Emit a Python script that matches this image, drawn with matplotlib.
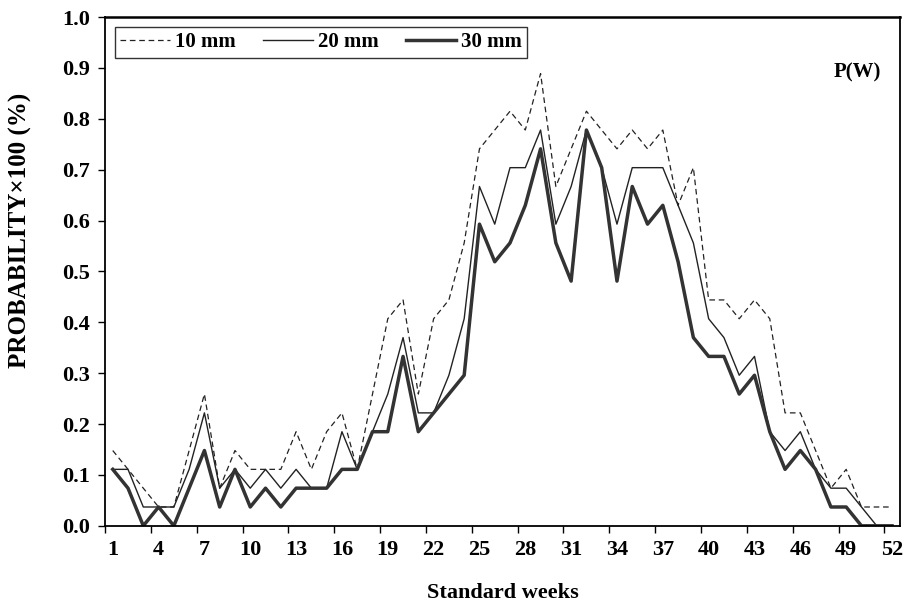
import matplotlib
matplotlib.use("Agg")

import numpy as np
import matplotlib.pyplot as plt

# ── Data (probability of weekly rainfall >= threshold) ─────────────
weeks = list(range(1, 53))

p_10mm = [0.148, 0.111, 0.074, 0.037, 0.037, 0.148, 0.259, 0.074, 0.148, 0.111,
          0.111, 0.111, 0.185, 0.111, 0.185, 0.222, 0.111, 0.259, 0.407, 0.444,
          0.259, 0.407, 0.444, 0.556, 0.741, 0.778, 0.815, 0.778, 0.889, 0.667,
          0.741, 0.815, 0.778, 0.741, 0.778, 0.741, 0.778, 0.630, 0.704, 0.444,
          0.444, 0.407, 0.444, 0.407, 0.222, 0.222, 0.148, 0.074, 0.111, 0.037,
          0.037, 0.037]

p_20mm = [0.111, 0.111, 0.037, 0.037, 0.037, 0.111, 0.222, 0.074, 0.111, 0.074,
          0.111, 0.074, 0.111, 0.074, 0.074, 0.185, 0.111, 0.185, 0.259, 0.370,
          0.222, 0.222, 0.296, 0.407, 0.667, 0.593, 0.704, 0.704, 0.778, 0.593,
          0.667, 0.778, 0.704, 0.593, 0.704, 0.704, 0.704, 0.630, 0.556, 0.407,
          0.370, 0.296, 0.333, 0.185, 0.148, 0.185, 0.111, 0.074, 0.074, 0.037,
          0.0, 0.0]

p_30mm = [0.111, 0.074, 0.0, 0.037, 0.0, 0.074, 0.148, 0.037, 0.111, 0.037,
          0.074, 0.037, 0.074, 0.074, 0.074, 0.111, 0.111, 0.185, 0.185, 0.333,
          0.185, 0.222, 0.259, 0.296, 0.593, 0.519, 0.556, 0.630, 0.741, 0.556,
          0.481, 0.778, 0.704, 0.481, 0.667, 0.593, 0.630, 0.519, 0.370, 0.333,
          0.333, 0.259, 0.296, 0.185, 0.111, 0.148, 0.111, 0.037, 0.037, 0.0,
          0.0, 0.0]

label_weeks = list(range(1, 53, 3))
y_ticks = [0.0, 0.1, 0.2, 0.3, 0.4, 0.5, 0.6, 0.7, 0.8, 0.9, 1.0]

# ── Plot ───────────────────────────────────────────────────────────
plt.rcParams["font.family"] = ["Liberation Serif", "DejaVu Serif"]
plt.rcParams["font.weight"] = "bold"

fig = plt.figure(figsize=(9.06, 6.10), dpi=100)
ax = fig.add_axes([0.116, 0.138, 0.877, 0.834])

ax.plot(weeks, p_10mm, color="#222222", linewidth=0.9, linestyle=(0, (4.5, 3)), label="10 mm")
ax.plot(weeks, p_20mm, color="#222222", linewidth=1.0, label="20 mm")
ax.plot(weeks, p_30mm, color="#333333", linewidth=2.5, label="30 mm")

ax.set_xlim(0.5, 52.5)
ax.set_ylim(0, 1.0)

# labels centred on weeks, tick marks between categories
ax.set_xticks(label_weeks)
ax.set_xticklabels([str(w) for w in label_weeks], fontsize=16, fontweight="bold")
ax.tick_params(axis="x", which="major", length=0, pad=10)
ax.set_xticks(np.arange(0.5, 52, 3), minor=True)
ax.tick_params(axis="x", which="minor", direction="out", length=5, width=1)

ax.set_yticks(y_ticks)
ax.set_yticklabels([f"{v:.1f}" for v in y_ticks], fontsize=16, fontweight="bold")
ax.tick_params(axis="y", direction="out", length=5, width=1, pad=6)

for side in ["left", "bottom", "right"]:
    ax.spines[side].set_linewidth(1.3)
ax.spines["top"].set_linewidth(1.8)

ax.set_xlabel("Standard weeks", fontsize=16, fontweight="bold", labelpad=17)
ax.set_ylabel("PROBABILITY\u00d7100 (%)", fontsize=18, fontweight="bold")
ax.yaxis.set_label_coords(-0.092, 0.58)

ax.text(0.947, 0.892, "P(W)", transform=ax.transAxes, fontsize=15,
        fontweight="bold", ha="center", va="center")

leg = ax.legend(loc="upper left", ncol=3, frameon=True, fancybox=False,
                bbox_to_anchor=(0.012, 0.98), borderaxespad=0,
                prop={"family": "Liberation Serif", "weight": "bold", "size": 15},
                handlelength=2.4, handletextpad=0.25, columnspacing=1.3,
                borderpad=0.25)
leg.get_frame().set_edgecolor("black")
leg.get_frame().set_linewidth(1.0)

fig.savefig("out.png", dpi=100)
